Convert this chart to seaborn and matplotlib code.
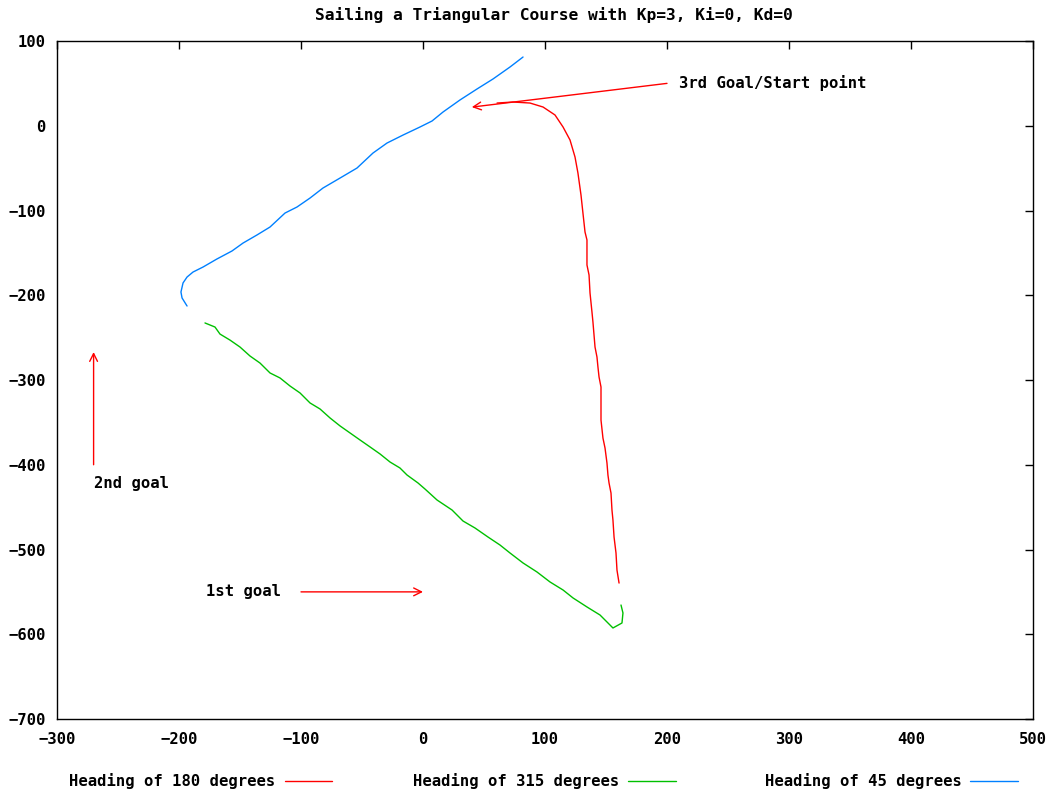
import matplotlib
matplotlib.use("Agg")
import matplotlib.pyplot as plt
from matplotlib.lines import Line2D
import seaborn as sns
import pandas as pd

# Heading of 180 degrees (red)
red_x = [60.7, 73.8, 87.7, 98.4, 108.2, 114.8, 120.5, 124.6, 127.0, 129.5, 131.1, 132.8, 134.4,
         134.4, 136.1, 136.9, 138.5, 139.3, 141.0, 142.6, 143.4, 144.3, 145.9, 145.9, 147.5,
         149.2, 150.8, 151.6, 152.5, 154.1, 154.9, 155.7, 156.6, 158.2, 159.0, 160.7]
red_y = [26.8, 28.0, 26.8, 22.1, 12.7, -1.5, -16.8, -36.9, -55.8, -81.7, -103.0, -125.4, -134.8,
         -164.3, -176.1, -197.3, -219.8, -231.6, -261.1, -272.9, -284.7, -296.5, -308.3, -347.3, -368.5,
         -380.3, -398.0, -412.2, -421.6, -433.4, -453.5, -465.3, -485.3, -504.2, -524.3, -539.6]

# Heading of 315 degrees (green)
green_x = [162.3, 163.9, 163.1, 155.7, 145.1, 134.4, 123.0, 114.8, 104.1, 93.4, 82.0, 71.3, 63.1,
           53.3, 42.6, 32.8, 23.8, 11.5, 1.6, -4.1, -13.1, -18.9, -27.0, -35.2, -43.4, -51.6,
           -59.8, -68.0, -76.2, -84.4, -92.6, -100.8, -109.0, -117.2, -125.4, -133.6, -141.8,
           -150.0, -158.2, -166.4, -170.5, -178.7]
green_y = [-565.5, -574.9, -586.7, -592.6, -577.3, -567.8, -557.2, -547.8, -538.3, -526.5, -515.9,
           -504.1, -494.7, -485.3, -474.6, -466.4, -453.4, -441.6, -428.6, -421.5, -412.1, -403.8,
           -396.8, -387.3, -379.0, -370.8, -362.5, -354.2, -344.8, -334.2, -327.1, -315.3, -307.1,
           -297.6, -291.7, -280.0, -271.7, -261.1, -252.9, -245.8, -237.5, -232.7]

# Heading of 45 degrees (blue)
blue_x = [-193.4, -197.5, -198.4, -196.7, -193.4, -188.5, -180.3, -168.9, -156.6, -147.5, -136.1,
          -125.4, -113.1, -103.3, -92.6, -82.0, -68.0, -54.1, -41.0, -29.5, -16.4, -2.5, 7.4,
          16.4, 30.3, 44.3, 57.4, 71.3, 82.0]
blue_y = [-212.7, -203.2, -196.2, -185.5, -178.5, -172.6, -166.7, -157.2, -147.8, -138.4, -128.9,
          -119.5, -103.0, -95.9, -85.3, -73.5, -61.7, -49.9, -32.2, -20.4, -11.0, -1.5, 5.6,
          16.2, 30.4, 43.4, 55.2, 69.3, 81.1]

series_names = ["Heading of 180 degrees", "Heading of 315 degrees", "Heading of 45 degrees"]
series_colors = ["#ff0000", "#00c000", "#0080ff"]

x_ticks = list(range(-300, 501, 100))
y_ticks = list(range(-700, 101, 100))

title = "Sailing a Triangular Course with Kp=3, Ki=0, Kd=0"

sns.set_style("white")
plt.rcParams['font.family'] = ['DejaVu Sans Mono']
plt.rcParams['font.weight'] = 'bold'
plt.rcParams['text.color'] = 'black'
plt.rcParams['xtick.color'] = 'black'
plt.rcParams['ytick.color'] = 'black'
plt.rcParams['axes.labelcolor'] = 'black'

FS = 11.2

fig = plt.figure(figsize=(10.54, 7.96), dpi=100)
ax = fig.add_axes([57/1054, 1 - 719/796, (1033 - 57)/1054, (719 - 41)/796])

data = [(red_x, red_y), (green_x, green_y), (blue_x, blue_y)]
for (xs, ys), name, col in zip(data, series_names, series_colors):
    df = pd.DataFrame({"x": xs, "y": ys})
    sns.lineplot(data=df, x="x", y="y", sort=False, estimator=None, color=col,
                 linewidth=1.0, ax=ax)

ax.set_xlim(-300, 500)
ax.set_ylim(-700, 100)
ax.set_xticks(x_ticks)
ax.set_yticks(y_ticks)
ax.set_xlabel("")
ax.set_ylabel("")
ax.tick_params(direction="in", length=6, width=1, top=True, right=True, labelsize=FS,
               colors="black")
ax.tick_params(axis="x", pad=9)
ax.tick_params(axis="y", pad=8)
for s in ax.spines.values():
    s.set_color("black")
    s.set_linewidth(1)
    s.set_visible(True)

fig.text(553.5/1054, 1 - 15/796, title, ha="center", va="center", fontsize=11.7,
         fontweight="bold", color="black")

arrow_kw = dict(arrowstyle="->", color="red", lw=1.0, mutation_scale=14, shrinkA=0, shrinkB=0)
ax.annotate("", xy=(40, 22), xytext=(200, 50), arrowprops=arrow_kw)
ax.text(210, 50, "3rd Goal/Start point", ha="left", va="center", fontsize=FS, fontweight="bold")
ax.annotate("", xy=(-270, -267), xytext=(-270, -400), arrowprops=arrow_kw)
ax.text(-270, -422, "2nd goal", ha="left", va="center", fontsize=FS, fontweight="bold")
ax.annotate("", xy=(0, -550), xytext=(-100, -550), arrowprops=arrow_kw)
ax.text(-178, -550, "1st goal", ha="left", va="center", fontsize=FS, fontweight="bold")

# legend at bottom, gnuplot style: text then line sample
legend_text_right = [275, 619, 962]
legend_line = [(285, 332), (628, 676), (970, 1018)]
ly = 1 - 781/796
for name, col, tr, (l0, l1) in zip(series_names, series_colors, legend_text_right, legend_line):
    fig.text(tr/1054, ly, name, ha="right", va="center", fontsize=FS, fontweight="bold")
    fig.add_artist(Line2D([l0/1054, l1/1054], [ly, ly], color=col, lw=1.0, transform=fig.transFigure))

fig.savefig("out.png", dpi=100)
